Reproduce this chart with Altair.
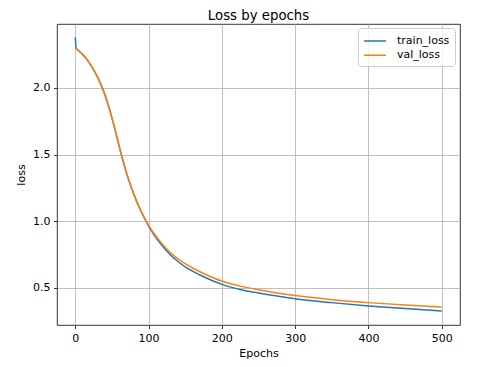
import altair as alt
import pandas as pd

epochs = [0, 1, 5, 10, 15, 20, 25, 30, 35, 40, 45, 50, 55, 60, 65, 70, 75, 80, 85, 90, 95,
          100, 110, 120, 130, 140, 150, 160, 175, 200, 225, 250, 275, 300, 350, 400, 450, 500]
train_loss = [2.38, 2.30, 2.277, 2.252, 2.22, 2.18, 2.135, 2.085, 2.025, 1.955, 1.87, 1.775, 1.67,
              1.56, 1.455, 1.36, 1.275, 1.20, 1.13, 1.07, 1.015,
              0.962, 0.877, 0.805, 0.745, 0.697, 0.657, 0.624, 0.582, 0.525, 0.487, 0.46, 0.437,
              0.417, 0.388, 0.363, 0.343, 0.325]
val_loss = [2.30, 2.297, 2.277, 2.252, 2.22, 2.18, 2.135, 2.085, 2.025, 1.955, 1.87, 1.775, 1.67,
            1.56, 1.455, 1.36, 1.276, 1.202, 1.133, 1.073, 1.019,
            0.968, 0.888, 0.818, 0.762, 0.717, 0.68, 0.648, 0.607, 0.55, 0.512, 0.485, 0.461,
            0.441, 0.41, 0.388, 0.37, 0.355]
series = ["train_loss", "val_loss"]
colors = ["#1f77b4", "#ff7f0e"]
x_ticks = [0, 100, 200, 300, 400, 500]
y_ticks = [0.5, 1.0, 1.5, 2.0]

rows = []
for name, vals in zip(series, [train_loss, val_loss]):
    for e, v in zip(epochs, vals):
        rows.append({"epoch": e, "loss": v, "series": name})
df = pd.DataFrame(rows)

chart = alt.Chart(df).mark_line(strokeWidth=1.5, interpolate="monotone").encode(
    x=alt.X("epoch:Q", title="Epochs",
            scale=alt.Scale(domain=[-25, 525], nice=False, zero=False),
            axis=alt.Axis(values=x_ticks, format="d")),
    y=alt.Y("loss:Q", title="loss",
            scale=alt.Scale(domain=[0.22, 2.48], nice=False, zero=False),
            axis=alt.Axis(values=y_ticks, format=".1f")),
    color=alt.Color("series:N", title=None,
                    scale=alt.Scale(domain=series, range=colors),
                    legend=alt.Legend(orient="none", legendX=301, legendY=4,
                                      symbolType="M-1.6,0L1.6,0", symbolSize=189,
                                      symbolStrokeWidth=1.5, symbolOffset=4,
                                      labelOffset=14,
                                      labelFontSize=11, labelColor="#000000",
                                      labelFont="DejaVu Sans",
                                      fillColor="rgba(255,255,255,0.8)",
                                      strokeColor="#cccccc", cornerRadius=3,
                                      padding=5, rowPadding=1.25)),
    order=alt.Order("series:N"),
).properties(
    width=403, height=301,
    title=alt.TitleParams("Loss by epochs", fontSize=13.3, font="DejaVu Sans",
                          fontWeight="normal", color="#000000", offset=2),
    padding={"left": 49, "top": 16, "right": 20, "bottom": 42},
    autosize=alt.AutoSizeParams(type="none"),
).configure_view(
    stroke="#000000", strokeWidth=0.8
).configure_axis(
    grid=True, gridColor="#b0b0b0", gridWidth=0.8,
    domain=False,
    tickColor="#000000", tickSize=3.5, tickWidth=0.8,
    labelFont="DejaVu Sans", labelFontSize=11, labelColor="#000000",
    labelPadding=3.5,
    titleFont="DejaVu Sans", titleFontSize=11, titleFontWeight="normal", titleColor="#000000",
).configure_axisX(titlePadding=4).configure_axisY(titlePadding=6)

chart.save("out.html", embed_options={"renderer": "svg", "actions": False})
